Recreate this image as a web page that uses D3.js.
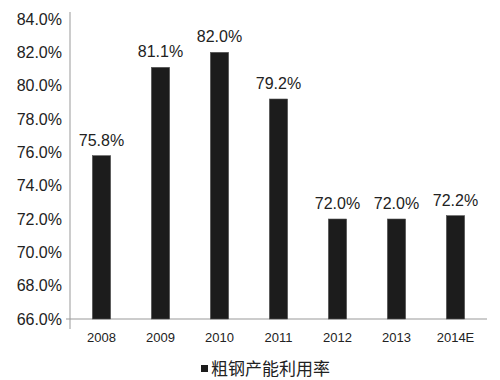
<!DOCTYPE html>
<html><head><meta charset="utf-8">
<script src="https://cdn.jsdelivr.net/npm/d3@7"></script>
<style>body{margin:0;background:#fff}svg{display:block}</style>
</head><body>
<script>
const categories = ["2008","2009","2010","2011","2012","2013","2014E"];
const values = [75.8, 81.1, 82.0, 79.2, 72.0, 72.0, 72.2];
const yTicks = [66,68,70,72,74,76,78,80,82,84];
const seriesName = "粗钢产能利用率";

const W = 500, H = 380;
const svg = d3.select("body").append("svg").attr("width", W).attr("height", H);
const font = "'Liberation Sans', Arial, Helvetica, sans-serif";

const x = d3.scaleBand().domain(categories).range([72, 485]).paddingInner(0.69).paddingOuter(0.345);
const y = d3.scaleLinear().domain([66, 84]).range([319, 19]);

// y axis
const yAxis = svg.append("g").attr("transform", "translate(70,0)")
  .call(d3.axisLeft(y).tickValues(yTicks).tickFormat(d => d.toFixed(1) + "%").tickSize(0).tickPadding(8));
yAxis.select(".domain").attr("stroke", "#999").attr("d", "M0,12V329");
yAxis.selectAll("text").attr("font-family", font).attr("font-size", 16).attr("fill", "#222");

// x axis
const xAxis = svg.append("g").attr("transform", "translate(0,319)")
  .call(d3.axisBottom(x).tickSize(0).tickPadding(14));
xAxis.select(".domain").attr("stroke", "#999").attr("d", "M66,0H487");
xAxis.selectAll("text").attr("font-family", font).attr("font-size", 13).attr("fill", "#222");

// bars
svg.append("g").selectAll("rect").data(values).join("rect")
  .attr("x", (d, i) => x(categories[i]))
  .attr("y", d => y(d))
  .attr("width", x.bandwidth())
  .attr("height", d => y(66) - y(d))
  .attr("fill", "#1c1c1c")
  .attr("stroke", "#555").attr("stroke-width", 0.6);

// value labels
svg.append("g").selectAll("text").data(values).join("text")
  .attr("x", (d, i) => x(categories[i]) + x.bandwidth() / 2)
  .attr("y", d => y(d) - 10)
  .attr("text-anchor", "middle")
  .attr("font-family", font).attr("font-size", 16).attr("fill", "#222")
  .text(d => d.toFixed(1) + "%");

// legend
const lg = svg.append("g");
lg.append("rect").attr("x", 201).attr("y", 365).attr("width", 7).attr("height", 7).attr("fill", "#1c1c1c");
lg.append("text").attr("x", 211).attr("y", 374.5)
  .attr("font-family", "'Noto Sans CJK SC', sans-serif").attr("font-size", 17).attr("fill", "#222")
  .text(seriesName);
</script>
</body></html>
